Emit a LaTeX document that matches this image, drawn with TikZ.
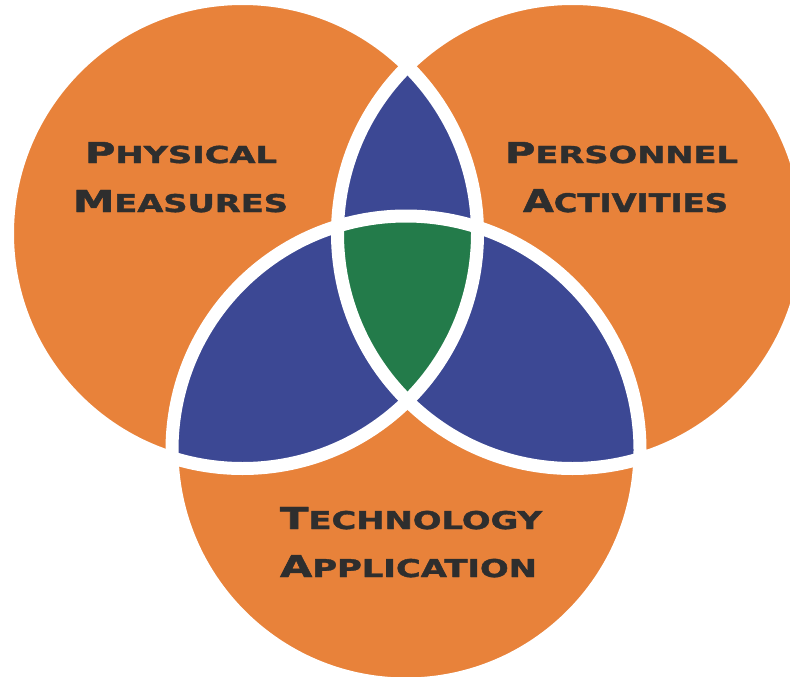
\documentclass[tikz,border=0pt]{standalone}
\usepackage{fontspec}
\setmainfont{DejaVu Sans}
\newfontfamily\lblfont{DejaVu Sans}[BoldFont={DejaVu Sans Bold}, BoldFeatures={FakeBold=1.5}]
\usepackage{graphicx}
\definecolor{vorange}{HTML}{E8823A}
\definecolor{vblue}{HTML}{3C4894}
\definecolor{vgreen}{HTML}{237B4A}
\definecolor{vtext}{HTML}{2E2E2E}
\newcommand{\scword}[4]{\resizebox{#3pt}{#4pt}{\lblfont\bfseries{\fontsize{29}{29}\selectfont #1}{\fontsize{23.5}{23.5}\selectfont #2}}}
\tikzset{
  lbl/.style={inner sep=0pt, outer sep=0pt, anchor=base west, text=vtext},
  sep/.style={draw=white, line width=13pt}
}
\begin{document}
\begin{tikzpicture}[x=1pt,y=-1pt]
\useasboundingbox (0,0) rectangle (790,677);
\clip (0,0) rectangle (790,677);
\fill[white] (0,0) rectangle (790,677);
\coordinate (L) at (242.5,233.5);
\coordinate (R) at (572.5,233.5);
\coordinate (B) at (406,450);
\fill[vorange] (L) circle[radius=235pt];
\fill[vorange] (R) circle[radius=235pt];
\fill[vorange] (B) circle[radius=234pt];
\begin{scope}
  \clip (L) circle[radius=235pt];
  \fill[vblue] (R) circle[radius=235pt];
  \fill[vblue] (B) circle[radius=234pt];
\end{scope}
\begin{scope}
  \clip (R) circle[radius=235pt];
  \fill[vblue] (B) circle[radius=234pt];
\end{scope}
\begin{scope}
  \clip (L) circle[radius=235pt];
  \clip (R) circle[radius=235pt];
  \fill[vgreen] (B) circle[radius=234pt];
\end{scope}
\draw[sep] (L) circle[radius=235pt];
\draw[sep] (R) circle[radius=235pt];
\draw[sep] (B) circle[radius=234pt];
\node[lbl] (t1) at (85,163) {\scword{P}{HYSICAL}{192}{21}};
\node[lbl] (t2) at (73,212) {\scword{M}{EASURES}{215}{22}};
\node[lbl] (t3) at (505,163) {\scword{P}{ERSONNEL}{233}{21}};
\node[lbl] (t4) at (523,212) {\scword{A}{CTIVITIES}{205}{23}};
\node[lbl] (t5) at (280,529) {\scword{T}{ECHNOLOGY}{262}{22}};
\node[lbl] (t6) at (280,577) {\scword{A}{PPLICATION}{257}{22}};
\end{tikzpicture}
\end{document}
